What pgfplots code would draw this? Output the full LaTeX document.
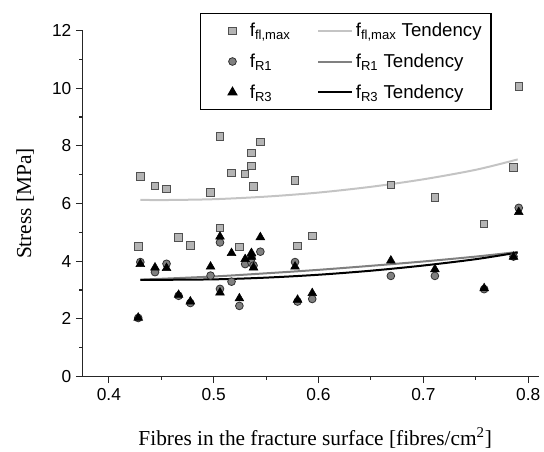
\documentclass[border=0pt]{standalone}
\usepackage{fontspec}
\setmainfont{Liberation Sans}
\newfontfamily\timesf{Liberation Serif}
\usepackage{pgfplots}
\pgfplotsset{compat=1.18}
\definecolor{sqfill}{HTML}{B4B4B4}
\definecolor{sqdraw}{HTML}{505050}
\definecolor{cifill}{HTML}{808080}
\definecolor{cidraw}{HTML}{303030}
\definecolor{lightl}{HTML}{C4C4C4}
\definecolor{grayl}{HTML}{808080}
\pgfplotsset{
  markleg/.style={legend image code/.code={\path[draw=none] (0pt,0pt) -- (30pt,0pt); \path[##1, draw=none] plot[only marks] coordinates {(19pt,0pt)};}},
  lineleg/.style={legend image code/.code={\draw[##1] (0pt,0pt) -- (25.5pt,0pt);}},
  sqstyle/.style={only marks, mark=square*, mark size=2.8pt, mark options={fill=sqfill, draw=sqdraw, line width=0.6pt}},
  cistyle/.style={only marks, mark=*, mark size=2.9pt, mark options={fill=cifill, draw=cidraw, line width=0.6pt}},
  tristyle/.style={only marks, mark=triangle*, mark size=3.8pt, mark options={fill=black, draw=black}},
}
\begin{document}
\begin{tikzpicture}
\begin{axis}[
  scale only axis, width=342pt, height=259.5pt,
  xmin=0.375, xmax=0.81, ymin=0, ymax=12,
  axis lines*=left,
  axis line style={line width=0.8pt, black!85},
  tick align=outside,
  xtick={0.4,0.5,0.6,0.7,0.8},
  ytick={0,2,4,6,8,10,12},
  minor x tick num=1, minor y tick num=1,
  major tick length=5pt, minor tick length=2.5pt,
  tick style={black!85, line width=0.8pt},
  /pgf/number format/assume math mode=true,
  /pgf/number format/fixed,
  ticklabel style={font=\fontsize{13}{15}\selectfont},
  xlabel={Fibres in the fracture surface [fibres/cm\textsuperscript{2}]},
  ylabel={Stress [MPa]},
  label style={font=\timesf\fontsize{16}{19}\selectfont},
  xlabel style={at={(axis description cs:0.51,0)}, anchor=base, yshift=-52pt},
  ylabel style={at={(axis description cs:-0.126,0.5)}, anchor=center},
  legend columns=2,
  legend cell align=left,
  legend style={at={(axis description cs:0.2572,1.0506)}, anchor=north west,
    font=\fontsize{14}{16}\selectfont, draw=black, line width=0.8pt,
    inner xsep=5pt, inner ysep=5pt, row sep=7.5pt,
    /tikz/every even column/.append style={column sep=18pt}},
]
\addlegendimage{sqstyle, markleg}
\addlegendentry{f\textsubscript{fl,max}}
\addlegendimage{lightl, line width=1.5pt, lineleg}
\addlegendentry{f\textsubscript{fl,max} Tendency}
\addlegendimage{cistyle, markleg}
\addlegendentry{f\textsubscript{R1}}
\addlegendimage{grayl, line width=1.5pt, lineleg}
\addlegendentry{f\textsubscript{R1} Tendency}
\addlegendimage{tristyle, markleg}
\addlegendentry{f\textsubscript{R3}}
\addlegendimage{black, line width=1.5pt, lineleg}
\addlegendentry{f\textsubscript{R3} Tendency}

\addplot[lightl, line width=1.5pt, smooth, forget plot] coordinates {
(0.43,6.13) (0.45,6.12) (0.5,6.15) (0.55,6.24) (0.6,6.38) (0.65,6.58) (0.7,6.84) (0.75,7.17) (0.79,7.53)};
\addplot[grayl, line width=1.5pt, smooth, forget plot] coordinates {
(0.43,3.36) (0.5,3.47) (0.55,3.58) (0.6,3.70) (0.65,3.84) (0.7,3.99) (0.75,4.16) (0.79,4.32)};
\addplot[black, line width=1.5pt, smooth, forget plot] coordinates {
(0.43,3.35) (0.5,3.37) (0.55,3.43) (0.6,3.53) (0.65,3.67) (0.7,3.85) (0.75,4.07) (0.79,4.30)};

\addplot[sqstyle, forget plot] table {
x y
0.428 4.52
0.430 6.94
0.444 6.61
0.455 6.51
0.4665 4.82
0.4777 4.54
0.497 6.38
0.506 8.33
0.506 5.15
0.517 7.07
0.5245 4.49
0.530 7.02
0.536 7.75
0.536 7.31
0.538 6.59
0.5445 8.13
0.5776 6.80
0.580 4.53
0.594 4.88
0.669 6.65
0.711 6.22
0.758 5.30
0.786 7.26
0.791 10.06
};
\addplot[cistyle, forget plot] table {
x y
0.428 2.03
0.430 3.97
0.444 3.62
0.455 3.91
0.4665 2.80
0.4777 2.55
0.497 3.50
0.506 4.65
0.506 3.04
0.517 3.29
0.5245 2.45
0.530 3.90
0.536 4.15
0.536 3.95
0.538 3.85
0.5445 4.33
0.5776 3.97
0.580 2.60
0.594 2.69
0.669 3.49
0.711 3.49
0.758 3.03
0.786 4.16
0.791 5.85
};
\addplot[tristyle, forget plot] table {
x y
0.428 2.04
0.430 3.90
0.444 3.78
0.455 3.76
0.4665 2.83
0.4777 2.60
0.497 3.81
0.506 4.85
0.506 2.91
0.517 4.28
0.5245 2.71
0.530 4.07
0.536 4.28
0.536 4.15
0.538 3.78
0.5445 4.83
0.5776 3.81
0.580 2.66
0.594 2.89
0.669 4.02
0.711 3.72
0.758 3.06
0.786 4.15
0.791 5.70
};
\end{axis}
\pgfresetboundingbox
\path[use as bounding box] (-62pt,-56.6pt) rectangle (346pt,282.4pt);
\end{tikzpicture}
\end{document}
